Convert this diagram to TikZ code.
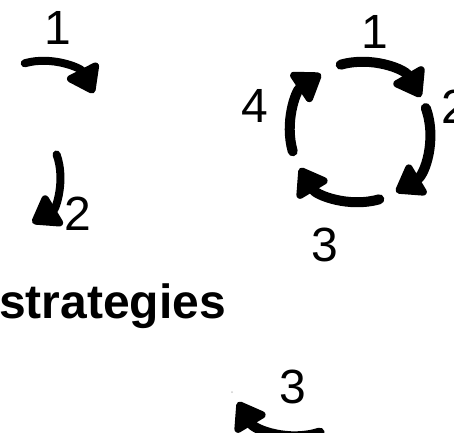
\documentclass[tikz,border=0pt]{standalone}
\usepackage{fontspec}
\setmainfont{Liberation Sans}
\usetikzlibrary{arrows.meta}

\tikzset{
  brush/.style={line width=10pt,line cap=round,line join=round,-{Triangle[length=30pt,width=40pt,round]}},
  num/.style={inner sep=0pt,font=\fontsize{48}{56}\selectfont},
}

\begin{document}
\begin{tikzpicture}[x=1pt,y=1pt]
  \clip (0,0) rectangle (454,432);

  % left column
  \coordinate (cycA) at (41,312);
  \coordinate (cycB) at (3,258);
  \draw[brush,line width=8pt] ([shift={(106:59)}]cycA) arc[start angle=106,end angle=27,radius=59];
  \draw[brush,line width=8pt] ([shift={(20:57)}]cycB) arc[start angle=20,end angle=-59,radius=57];
  \node[num] (oneA) at (58,404) {1};
  \node[num] (twoA) at (78,218) {2};

  % the cycle
  \coordinate (cycR) at (360,300);
  \foreach \a/\b in {106/30, 20/-59, -74/-149, -164/-236}
    \draw[brush] ([shift={(\a:70)}]cycR) arc[start angle=\a,end angle=\b,radius=70];
  \node[num] (oneR) at (375,400) {1};
  \node[num] (twoR) at (455,325) {2};
  \node[num] (threeR) at (325,187) {3};
  \node[num] (fourR) at (255,326) {4};

  \node[inner sep=0pt,anchor=base west,font=\bfseries\fontsize{48}{56}\selectfont] (title) at (-1,114) {strategies};

  % bottom
  \coordinate (cycC) at (298,66);
  \draw[brush] ([shift={(-72:70)}]cycC) arc[start angle=-72,end angle=-149,radius=70];
  \node[num] (threeC) at (293,45) {3};
  \fill[gray!40] (232,40) circle (1pt);
\end{tikzpicture}
\end{document}
